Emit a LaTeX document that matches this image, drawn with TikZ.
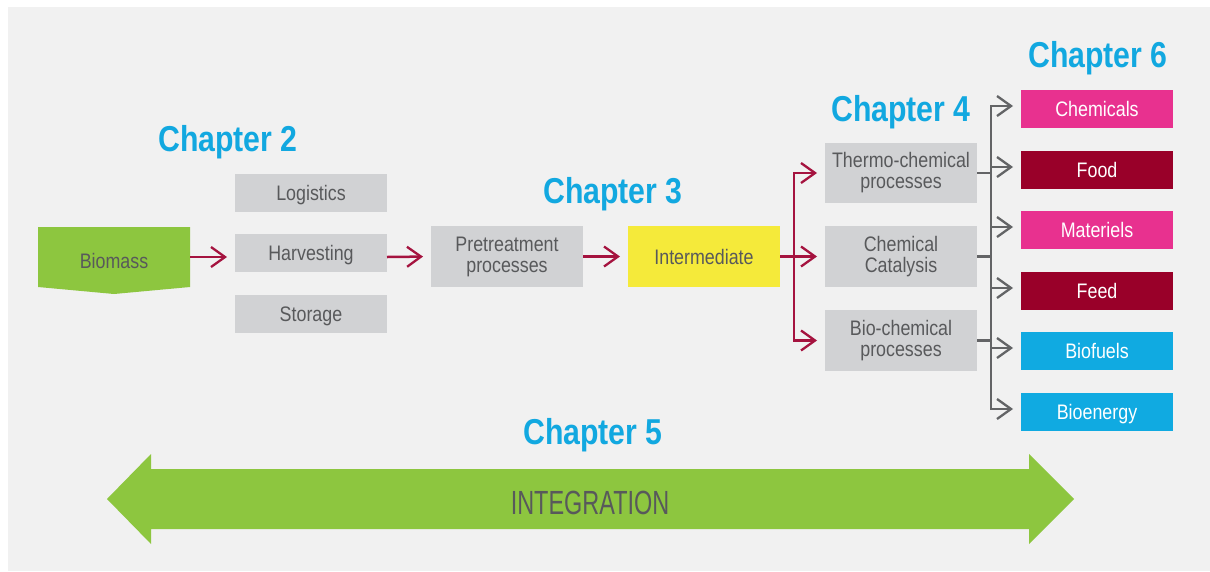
\documentclass[tikz,border=0pt]{standalone}
\usepackage{fontspec}
\setmainfont{Liberation Sans}
\newfontfamily\titlefont[FakeStretch=0.84]{Liberation Sans}
\newfontfamily\boxfont[FakeStretch=0.85]{Liberation Sans}
\newfontfamily\intfont[FakeStretch=0.70]{Liberation Sans}
\usetikzlibrary{arrows.meta}
\definecolor{panel}{HTML}{F1F1F1}
\definecolor{boxgray}{HTML}{D1D2D4}
\definecolor{leaf}{HTML}{8DC63F}
\definecolor{ylw}{HTML}{F5EA3A}
\definecolor{pink}{HTML}{E8318F}
\definecolor{darkred}{HTML}{990029}
\definecolor{skyblue}{HTML}{10AAE1}
\definecolor{chblue}{HTML}{12A8E0}
\definecolor{arrred}{HTML}{A5133F}
\definecolor{conngray}{HTML}{636466}
\definecolor{txtgray}{HTML}{58595B}
\tikzset{
  box/.style={rectangle, minimum width=152pt, inner sep=0pt, outer sep=0pt,
    font=\boxfont\fontsize{21}{21}\selectfont, text=txtgray, align=center},
  oneline/.style={text height=15pt, text depth=0pt},
  graybox/.style={box, fill=boxgray},
  outbox/.style={box, oneline, minimum height=38pt, text=white},
  chtitle/.style={font=\titlefont\bfseries\fontsize{36}{40}\selectfont, text=chblue, anchor=base, inner sep=0pt},
  redline/.style={draw=arrred, line width=2.5pt},
  redarrow/.style={redline, -{Straight Barb[length=14pt,width=20pt,line width=2.3pt]}, shorten >=8pt},
  grayline/.style={draw=conngray, line width=2.5pt},
  grayarrow/.style={grayline, -{Straight Barb[length=14pt,width=20pt,line width=2.3pt]}, shorten >=8pt},
}
\begin{document}
\begin{tikzpicture}[x=1pt,y=-1pt]
\fill[white] (0,0) rectangle (1210,571);
\fill[panel] (8,7) rectangle (1210,571);
\useasboundingbox (0,0) rectangle (1210,571);

% titles
\node[chtitle] (ch2) at (228,151) {Chapter 2};
\node[chtitle] (ch3) at (613,203) {Chapter 3};
\node[chtitle] (ch4) at (901,121) {Chapter 4};
\node[chtitle] (ch5) at (593,444) {Chapter 5};
\node[chtitle] (ch6) at (1098,67) {Chapter 6};

% biomass
\fill[leaf] (38,227) -- (190,227) -- (190,287) -- (114,294) -- (38,287) -- cycle;
\node[box, oneline, minimum height=67pt] (biomass) at (114,260.5) {Biomass};

% chapter 2 boxes
\node[graybox, oneline, minimum height=38pt] (logi) at (311,193) {Logistics};
\node[graybox, oneline, minimum height=38pt] (harv) at (311,253) {Harvesting};
\node[graybox, oneline, minimum height=38pt] (stor) at (311,314) {Storage};

% chapter 3
\node[graybox, minimum height=61pt] (pre) at (507,256.5) {Pretreatment\\processes};
\node[box, fill=ylw, oneline, minimum height=61pt] (inter) at (704,256.5) {Intermediate};

% chapter 4
\node[graybox, minimum height=60pt] (thermo) at (901,173) {Thermo-chemical\\processes};
\node[graybox, minimum height=61pt] (cat) at (901,256.5) {Chemical\\Catalysis};
\node[graybox, minimum height=61pt] (bioc) at (901,340.5) {Bio-chemical\\processes};

% chapter 6
\node[outbox, fill=pink] (chem) at (1097,109) {Chemicals};
\node[outbox, fill=darkred] (food) at (1097,170) {Food};
\node[outbox, fill=pink] (mat) at (1097,230) {Materiels};
\node[outbox, fill=darkred] (feed) at (1097,291) {Feed};
\node[outbox, fill=skyblue] (fuel) at (1097,351) {Biofuels};
\node[outbox, fill=skyblue] (ener) at (1097,412) {Bioenergy};

% red arrows
\draw[redarrow] ([yshift=3.5pt]biomass.east) -- ([yshift=-4pt]harv.west);
\draw[redarrow] ([yshift=-4pt]harv.east) -- (pre.west);
\draw[redarrow] (pre.east) -- (inter.west);
\coordinate (rj) at (794,256.5);
\draw[redarrow] (inter.east) -- (cat.west);
\draw[redarrow] (rj) -- (rj |- thermo.west) -- (thermo.west);
\draw[redarrow] (rj) -- (rj |- bioc.west) -- (bioc.west);

% gray connectors
\coordinate (gj) at (991,256.5);
\draw[grayline] (thermo.east) -- (gj |- thermo.east);
\draw[grayline] (cat.east) -- (gj);
\draw[grayline] (bioc.east) -- (gj |- bioc.east);
\draw[grayarrow] (gj) -- ([yshift=3pt]gj |- chem.west) -- ([yshift=3pt]chem.west);
\draw[grayarrow] ([yshift=3pt]gj |- food.west) -- ([yshift=3pt]food.west);
\draw[grayarrow] ([yshift=3pt]gj |- mat.west) -- ([yshift=3pt]mat.west);
\draw[grayarrow] ([yshift=3pt]gj |- feed.west) -- ([yshift=3pt]feed.west);
\draw[grayarrow] ([yshift=3pt]gj |- fuel.west) -- ([yshift=3pt]fuel.west);
\draw[grayarrow] (gj) -- ([yshift=3pt]gj |- ener.west) -- ([yshift=3pt]ener.west);

% integration arrow
\fill[leaf] (107,499) -- (151,454) -- (151,469) -- (1029,469) -- (1029,454) -- (1074,499)
  -- (1029,544) -- (1029,529) -- (151,529) -- (151,544) -- cycle;
\node[font=\intfont\fontsize{33.5}{34}\selectfont, text=txtgray, text height=24pt, text depth=0pt, inner sep=0pt] (integ) at (590,502) {INTEGRATION};
\end{tikzpicture}
\end{document}
